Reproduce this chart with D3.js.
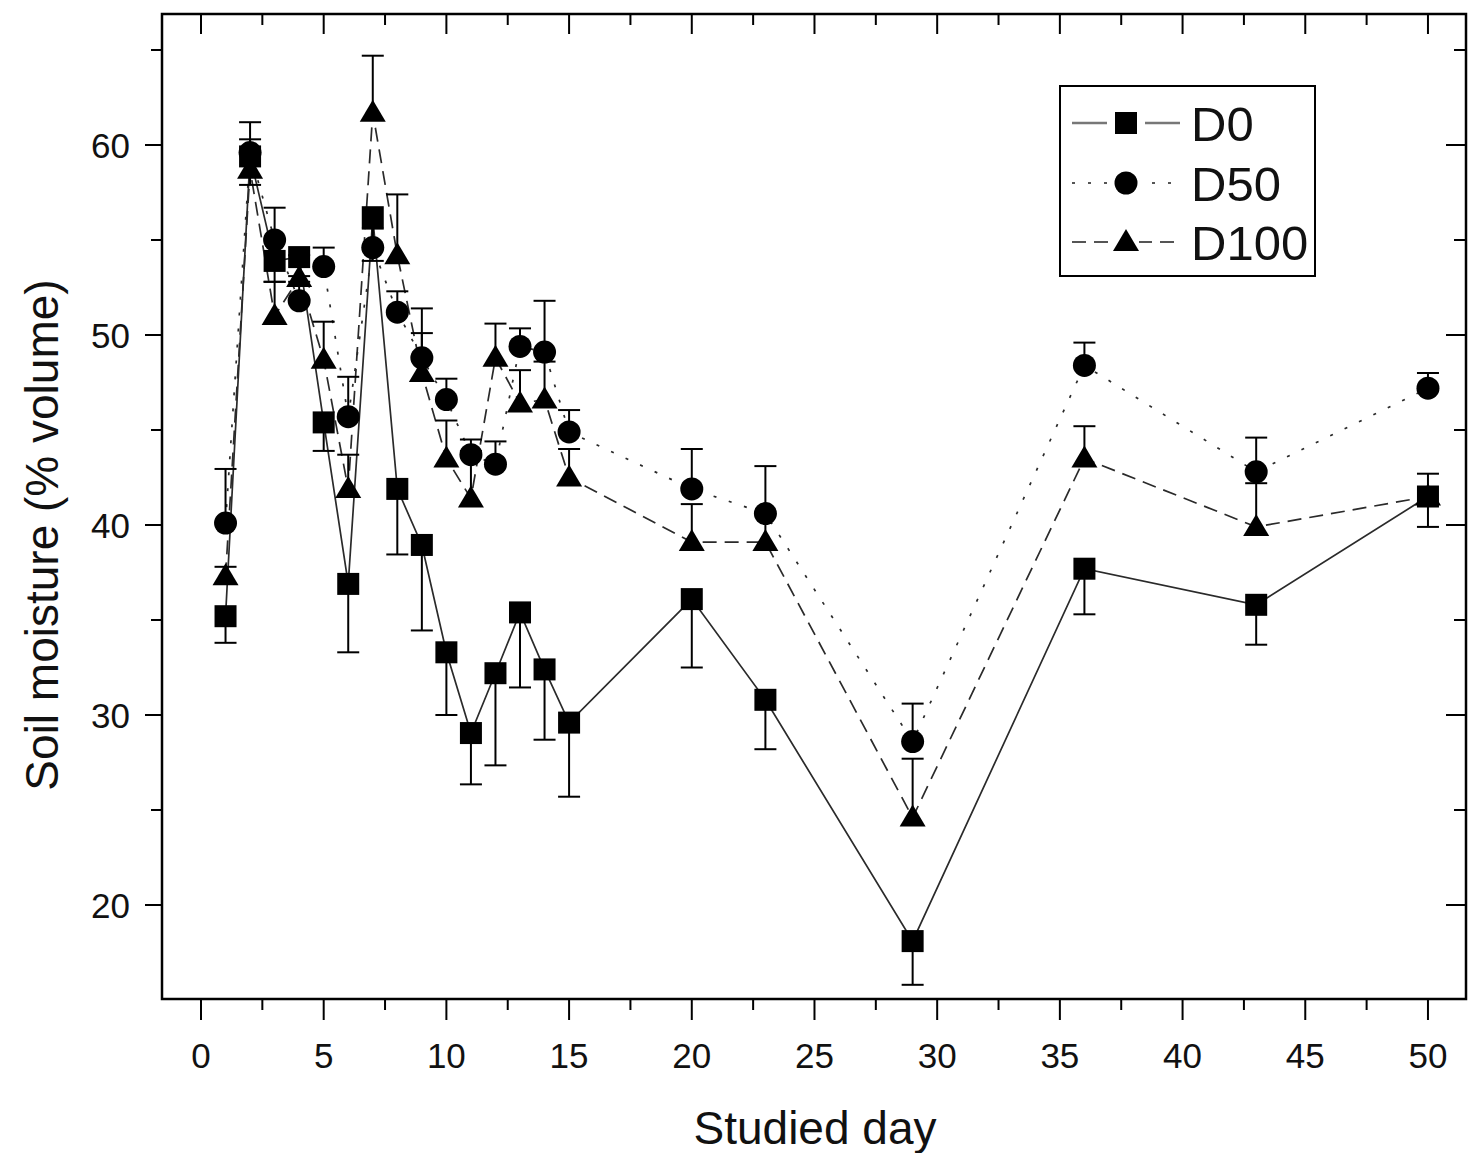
<!DOCTYPE html>
<html><head><meta charset="utf-8">
<script src="https://cdn.jsdelivr.net/npm/d3@7"></script>
<style>html,body{margin:0;padding:0;background:#fff;} svg{display:block;font-family:"Liberation Sans",Arial,sans-serif;}</style>
</head><body>
<script>
const days = [1,2,3,4,5,6,7,8,9,10,11,12,13,14,15,20,23,29,36,43,50];
const d0 = [35.2,59.4,53.9,54.1,45.4,36.9,56.2,41.9,38.95,33.3,29.05,32.2,35.4,32.4,29.6,36.1,30.8,18.1,37.7,35.8,41.5];
const d0Err = [1.4,1.5,1.1,1.0,1.5,3.6,2.3,3.45,4.5,3.3,2.7,4.85,3.95,3.7,3.9,3.6,2.6,2.3,2.4,2.1,1.6];
const d50 = [40.1,59.6,55.0,51.8,53.6,45.7,54.6,51.2,48.8,46.6,43.7,43.2,49.4,49.1,44.9,41.9,40.6,28.6,48.4,42.8,47.2];
const d50Err = [2.85,1.6,1.7,1.0,1.0,2.1,1.0,1.1,2.6,1.1,0.8,1.2,0.95,2.7,1.15,2.1,2.5,2.0,1.2,1.8,0.8];
const d100 = [37.3,58.7,51.0,53.0,48.7,41.9,61.7,54.2,48.0,43.5,41.4,48.8,46.4,46.6,42.5,39.1,39.1,24.6,43.5,39.9,41.5];
const d100Err = [0.5,1.6,1.8,1.2,2.0,1.8,3.0,3.2,2.1,2.0,2.5,1.8,1.75,2.0,1.5,2.0,1.5,3.1,1.7,2.3,1.2];
const seriesNames = ["D0","D50","D100"];
const xTicks = [0,5,10,15,20,25,30,35,40,45,50];
const yTicks = [20,30,40,50,60];

const W = 1468, H = 1153;
const L = 162, R = 1466, T = 14, B = 999;
const svg = d3.select("body").append("svg").attr("width", W).attr("height", H);

const x = d3.scaleLinear().domain([-1.589, 51.55]).range([L, R]);
const y = d3.scaleLinear().domain([15.053, 66.895]).range([B, T]);

const series = [
  {name:seriesNames[0], vals:d0, err:d0Err, dir:-1, marker:"square", dash:null},
  {name:seriesNames[1], vals:d50, err:d50Err, dir:1, marker:"circle", dash:"3,13"},
  {name:seriesNames[2], vals:d100, err:d100Err, dir:1, marker:"triangle", dash:"14,8"}
];

function drawMarker(g, type, cx, cy) {
  if (type === "square") {
    g.append("rect").attr("x", cx-11).attr("y", cy-11).attr("width", 22).attr("height", 22).attr("fill", "#000");
  } else if (type === "circle") {
    g.append("circle").attr("cx", cx).attr("cy", cy).attr("r", 11.5).attr("fill", "#000");
  } else {
    g.append("path").attr("d", `M${cx},${cy-13}L${cx+13},${cy+9}L${cx-13},${cy+9}Z`).attr("fill", "#000");
  }
}

const order = [2,0,1];
order.forEach(i => {
  const s = series[i];
  const line = d3.line().x((d,j) => x(days[j])).y(d => y(d));
  svg.append("path").datum(s.vals).attr("d", line)
    .attr("fill", "none").attr("stroke", "#2a2a2a").attr("stroke-width", 1.7)
    .attr("stroke-dasharray", s.dash);
});
order.forEach(i => {
  const s = series[i];
  const g = svg.append("g").attr("stroke", "#000").attr("stroke-width", 2);
  s.vals.forEach((v,j) => {
    const cx = x(days[j]), y0 = y(v), y1 = y(v + s.dir*s.err[j]);
    g.append("line").attr("x1", cx).attr("x2", cx).attr("y1", y0).attr("y2", y1);
    g.append("line").attr("x1", cx-11).attr("x2", cx+11).attr("y1", y1).attr("y2", y1);
  });
});
order.forEach(i => {
  const s = series[i];
  const g = svg.append("g");
  s.vals.forEach((v,j) => drawMarker(g, s.marker, x(days[j]), y(v)));
});

svg.append("rect").attr("x", L).attr("y", T).attr("width", R-L).attr("height", B-T)
  .attr("fill", "none").attr("stroke", "#000").attr("stroke-width", 2.5);

const xMinor = d3.range(0, 51, 2.5);
const tg = svg.append("g").attr("stroke", "#000").attr("stroke-width", 2);
xMinor.forEach(v => {
  const major = v % 5 === 0;
  const px = x(v);
  tg.append("line").attr("x1", px).attr("x2", px).attr("y1", B).attr("y2", B + (major ? 21 : 11));
  tg.append("line").attr("x1", px).attr("x2", px).attr("y1", T).attr("y2", T + (major ? 20 : 11));
});
const yMinor = d3.range(20, 66, 5);
yMinor.forEach(v => {
  const major = v % 10 === 0;
  const py = y(v);
  tg.append("line").attr("x1", L).attr("x2", L - (major ? 17 : 11)).attr("y1", py).attr("y2", py);
  tg.append("line").attr("x1", R).attr("x2", R - (major ? 20 : 12)).attr("y1", py).attr("y2", py);
});
svg.append("g").selectAll("text").data(xTicks).join("text")
  .attr("x", d => x(d)).attr("y", 1068).attr("text-anchor", "middle")
  .attr("font-size", 35).attr("fill", "#111").text(d => d);
svg.append("g").selectAll("text").data(yTicks).join("text")
  .attr("x", 130).attr("y", d => y(d) + 12.5).attr("text-anchor", "end")
  .attr("font-size", 35).attr("fill", "#111").text(d => d);

svg.append("text").attr("x", 815).attr("y", 1144).attr("text-anchor", "middle")
  .attr("font-size", 46).attr("fill", "#111").text("Studied day");
svg.append("text").attr("transform", "translate(58,535) rotate(-90)").attr("text-anchor", "middle")
  .attr("font-size", 46).attr("fill", "#111").text("Soil moisture (% volume)");

const lg = svg.append("g");
lg.append("rect").attr("x", 1060).attr("y", 86).attr("width", 255).attr("height", 190)
  .attr("fill", "#fff").attr("stroke", "#000").attr("stroke-width", 2);
const legY = [123, 183, 242];
series.forEach((s,i) => {
  const yy = legY[i];
  if (s.dash === null) {
    lg.append("line").attr("x1", 1072).attr("x2", 1107).attr("y1", yy).attr("y2", yy).attr("stroke", "#777").attr("stroke-width", 2.5);
    lg.append("line").attr("x1", 1145).attr("x2", 1180).attr("y1", yy).attr("y2", yy).attr("stroke", "#777").attr("stroke-width", 2.5);
  } else {
    lg.append("line").attr("x1", 1072).attr("x2", 1180).attr("y1", yy).attr("y2", yy)
      .attr("stroke", "#555").attr("stroke-width", 2).attr("stroke-dasharray", s.dash);
  }
  const mg = lg.append("g");
  if (s.dash !== null) mg.append("rect").attr("x", 1111).attr("y", yy-14).attr("width", 28).attr("height", 28).attr("fill", "#fff");
  drawMarker(mg, s.marker, 1126, yy);
  lg.append("text").attr("x", 1191).attr("y", yy + 18).attr("font-size", 49).attr("fill", "#111").text(s.name);
});
</script>
</body></html>
